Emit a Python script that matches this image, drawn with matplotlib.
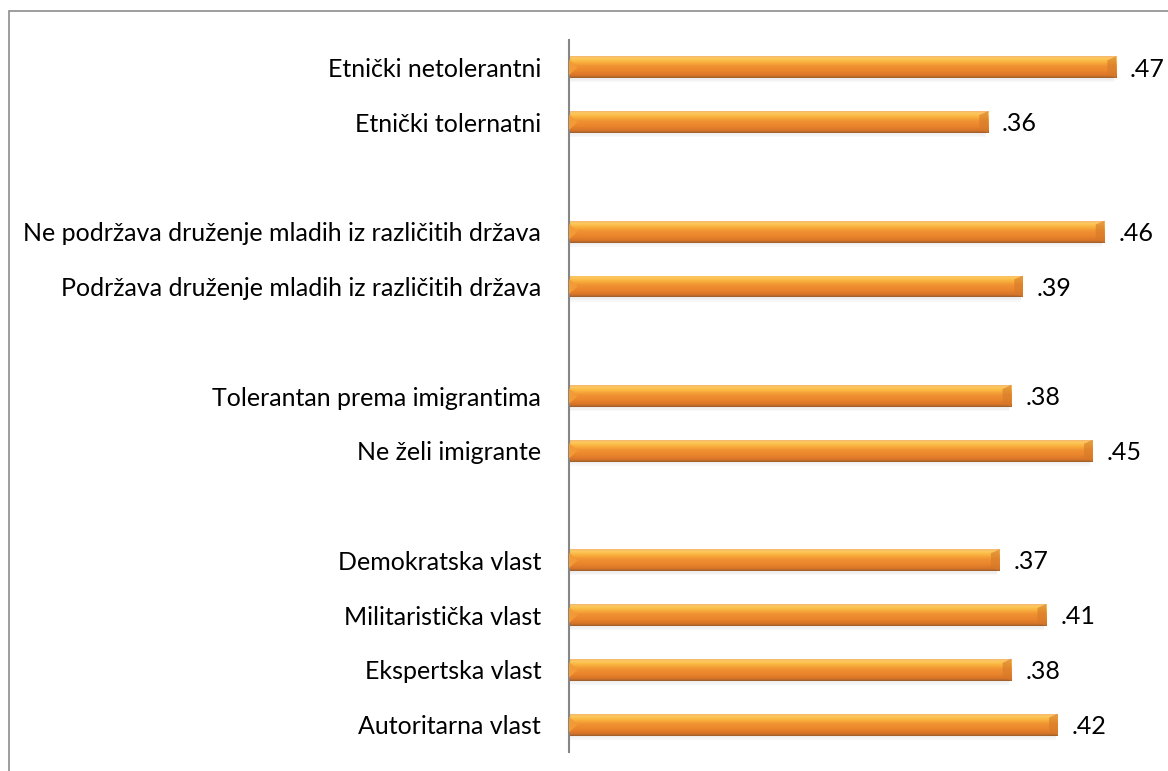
import numpy as np
import matplotlib.pyplot as plt
from matplotlib.colors import LinearSegmentedColormap
from matplotlib.patches import Rectangle, Polygon

# labels top to bottom, grouped; an empty row separates groups
groups = [
    ["Etnički netolerantni", "Etnički tolernatni"],
    ["Ne podržava druženje mladih iz različitih država",
     "Podržava druženje mladih iz različitih država"],
    ["Tolerantan prema imigrantima", "Ne želi imigrante"],
    ["Demokratska vlast", "Militaristička vlast", "Ekspertska vlast",
     "Autoritarna vlast"],
]
values = [
    [0.47, 0.36],
    [0.46, 0.39],
    [0.38, 0.45],
    [0.37, 0.41, 0.38, 0.42],
]

plt.rcParams['font.family'] = ['Lato', 'DejaVu Sans']

# positions: one slot per bar, plus a blank slot between groups
labels, vals, ypos = [], [], []
pos = 0
for g, v in zip(groups, values):
    for lab, val in zip(g, v):
        labels.append(lab)
        vals.append(val)
        ypos.append(pos)
        pos += 1
    pos += 1

fig = plt.figure(figsize=(11.68, 7.71), dpi=100)
ax = fig.add_axes([569 / 1168, 19 / 771, (1151 - 569) / 1168, 712 / 771])

# outer chart frame (only top/left visible in the crop)
fig.patches.append(Rectangle((8.5 / 1168, -0.1), 1.2, 1.1 - 11 / 771,
                             transform=fig.transFigure, fill=False,
                             edgecolor='#8c8c8c', linewidth=1.2))

grad = LinearSegmentedColormap.from_list('bar', [
    (0.0, '#f6b870'), (0.1, '#fdca5c'), (0.25, '#f9b43e'),
    (0.45, '#f09232'), (0.7, '#e9842c'), (0.9, '#d67428'), (1.0, '#9a5e2e')])
shade = np.linspace(0, 1, 64).reshape(-1, 1)

h = 0.40
bars = ax.barh(ypos, vals, height=h, color='none', edgecolor='none')
for b, y, v in zip(bars, ypos, vals):
    # soft shadow under the bar
    for k, a in enumerate([0.10, 0.07, 0.04]):
        ax.add_patch(Rectangle((0, y + h / 2 + k * 0.025), v - 0.002, 0.025,
                               facecolor='#606060', alpha=a, edgecolor='none'))
    im = ax.imshow(shade, cmap=grad, aspect='auto', origin='upper',
                   extent=(0, v, y + h / 2, y - h / 2), zorder=2)
    im.set_clip_path(b)
    bev = 0.0075
    # left bevel
    ax.add_patch(Polygon([(0, y - h / 2 + 0.06), (bev, y), (0, y + h / 2 - 0.06)],
                         facecolor='#f29a36', edgecolor='none', zorder=3))
    # right bevel
    ax.add_patch(Polygon([(v, y - h / 2), (v - bev, y - h / 2 + 0.07),
                          (v - bev, y + h / 2 - 0.07), (v, y + h / 2)],
                         facecolor='#d5792a', edgecolor='none', alpha=0.6, zorder=3))
    ax.text(v + 0.012, y + 0.03, '.' + f'{v:.2f}'.split('.')[1],
            va='center', ha='left', fontsize=18, color='black')

ax.set_xlim(0, 0.5)
ax.set_ylim(ypos[-1] + 0.5, -0.5)
ax.set_yticks(ypos)
ax.set_yticklabels(labels, fontsize=18)
ax.tick_params(axis='y', length=0, pad=20)
ax.set_xticks([])
for s in ['top', 'right', 'bottom']:
    ax.spines[s].set_visible(False)
ax.spines['left'].set_color('#868686')
ax.spines['left'].set_linewidth(1.5)

fig.savefig('out.png', dpi=100)
